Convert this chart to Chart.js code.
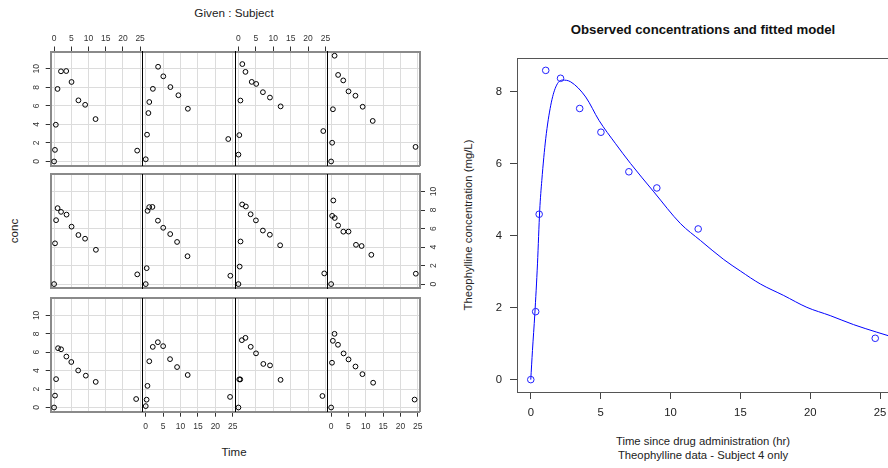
<!DOCTYPE html>
<html><head><meta charset="utf-8">
<script src="https://cdn.jsdelivr.net/npm/chart.js@4.4.1/dist/chart.umd.min.js"></script>
<style>
html,body{margin:0;padding:0;background:#fff;}
#wrap{position:relative;width:888px;height:468px;overflow:hidden;font-family:"Liberation Sans",Arial,sans-serif;}
#wrap canvas{position:absolute;left:0;top:0;}
.t{position:absolute;white-space:nowrap;color:#222;line-height:1;transform:translate(-50%,-50%);}
.r{transform:translate(-50%,-50%) rotate(-90deg);}
</style></head><body>
<div id="wrap">
  <div class="t" style="left:234px;top:13px;font-size:11.7px">Given : Subject</div>
  <div class="t r" style="left:15px;top:231px;font-size:11.5px">conc</div>
  <div class="t" style="left:234px;top:453px;font-size:11.5px">Time</div>
  <div class="t" style="left:703px;top:30px;font-size:13.2px;font-weight:bold;color:#111">Observed concentrations and fitted model</div>
  <div class="t r" style="left:469px;top:225px;font-size:11.3px">Theophylline concentration (mg/L)</div>
  <div class="t" style="left:703px;top:442px;font-size:11.3px">Time since drug administration (hr)</div>
  <div class="t" style="left:703px;top:455.5px;font-size:11.3px">Theophylline data - Subject 4 only</div>
</div>
<script>
// ---------- data (Theophylline, conc in mg/L, time in hr) ----------
const time_1  = [0, 0.25, 0.57, 1.12, 2.02, 3.82, 5.10, 7.03, 9.05, 12.12, 24.37];
const conc_1  = [0.74, 2.84, 6.57, 10.50, 9.66, 8.58, 8.36, 7.47, 6.89, 5.94, 3.28];
const time_2  = [0, 0.27, 0.52, 1.00, 1.92, 3.50, 5.02, 7.03, 9.00, 12.00, 24.30];
const conc_2  = [0.00, 1.72, 7.91, 8.31, 8.33, 6.85, 6.08, 5.40, 4.55, 3.01, 0.90];
const time_3  = [0, 0.27, 0.58, 1.02, 2.02, 3.62, 5.08, 7.07, 9.00, 12.15, 24.17];
const conc_3  = [0.00, 4.40, 6.90, 8.20, 7.80, 7.50, 6.20, 5.30, 4.90, 3.70, 1.05];
const time_4  = [0, 0.35, 0.60, 1.07, 2.13, 3.50, 5.02, 7.02, 9.02, 11.98, 24.65];
const conc_4  = [0.00, 1.89, 4.60, 8.60, 8.38, 7.54, 6.88, 5.78, 5.33, 4.19, 1.15];
const time_5  = [0, 0.30, 0.52, 1.00, 2.02, 3.50, 5.02, 7.02, 9.10, 12.00, 24.35];
const conc_5  = [0.00, 2.02, 5.63, 11.40, 9.33, 8.74, 7.56, 7.09, 5.90, 4.37, 1.57];
const time_6  = [0, 0.27, 0.58, 1.15, 2.03, 3.57, 5.00, 7.00, 9.22, 12.10, 23.85];
const conc_6  = [0.00, 1.29, 3.08, 6.44, 6.32, 5.53, 4.94, 4.02, 3.46, 2.78, 0.92];
const time_7  = [0, 0.25, 0.50, 1.02, 2.02, 3.48, 5.00, 6.98, 9.00, 12.05, 24.22];
const conc_7  = [0.15, 0.85, 2.35, 5.02, 6.58, 7.09, 6.66, 5.25, 4.39, 3.53, 1.15];
const time_8  = [0, 0.25, 0.52, 0.98, 2.02, 3.53, 5.05, 7.15, 9.07, 12.10, 24.12];
const conc_8  = [0.00, 3.05, 3.05, 7.31, 7.56, 6.59, 5.88, 4.73, 4.57, 3.00, 1.25];
const time_9  = [0, 0.30, 0.63, 1.05, 2.02, 3.53, 5.02, 7.17, 8.80, 11.60, 24.43];
const conc_9  = [0.00, 7.37, 9.03, 7.14, 6.33, 5.66, 5.67, 4.24, 4.11, 3.16, 1.12];
const time_10 = [0, 0.37, 0.77, 1.02, 2.05, 3.55, 5.05, 7.08, 9.38, 12.10, 23.70];
const conc_10 = [0.24, 2.89, 5.22, 6.41, 7.83, 10.21, 9.18, 8.02, 7.14, 5.68, 2.42];
const time_11 = [0, 0.25, 0.50, 0.98, 1.98, 3.60, 5.02, 7.03, 9.03, 12.12, 24.08];
const conc_11 = [0.00, 4.86, 7.24, 8.00, 6.81, 5.87, 5.22, 4.45, 3.62, 2.69, 0.86];
const time_12 = [0, 0.25, 0.50, 1.00, 2.00, 3.52, 5.07, 7.07, 9.03, 12.05, 24.15];
const conc_12 = [0.00, 1.25, 3.96, 7.82, 9.72, 9.75, 8.57, 6.59, 6.11, 4.57, 1.17];

// coplot panel order: bottom-left to right, then upwards
const panelSubjects = ['6', '7', '8', '11', '3', '2', '4', '9', '12', '10', '1', '5'];
const coplotTimeTicks = [0, 5, 10, 15, 20, 25];
const coplotConcTicks = [0, 2, 4, 6, 8, 10];

// fitted one-compartment model for subject 4
const fitTime = [0, 0.12, 0.29, 0.48, 0.64, 0.79, 1.07, 1.43, 1.79, 2.26, 2.86, 3.93, 4.88, 6.07, 7.14, 8.81, 10.71, 12.14, 13.81, 15.0, 16.43, 18.1, 19.76, 21.43, 23.1, 24.76, 25.6];
const fitConc = [0, 0.81, 1.83, 3.22, 4.71, 5.54, 6.70, 7.63, 8.14, 8.33, 8.28, 7.86, 7.21, 6.56, 6.01, 5.22, 4.34, 3.87, 3.34, 3.02, 2.66, 2.34, 2.01, 1.78, 1.53, 1.32, 1.22];
const fitTimeTicks = [0, 5, 10, 15, 20, 25];
const fitConcTicks = [0, 2, 4, 6, 8];

const dataBySubject = {
  '1': [time_1, conc_1], '2': [time_2, conc_2], '3': [time_3, conc_3], '4': [time_4, conc_4],
  '5': [time_5, conc_5], '6': [time_6, conc_6], '7': [time_7, conc_7], '8': [time_8, conc_8],
  '9': [time_9, conc_9], '10': [time_10, conc_10], '11': [time_11, conc_11], '12': [time_12, conc_12]
};

// ---------- layout ----------
const W = 888, H = 468;
const colX = [50.7, 142.3, 235, 327.7, 420];
const rowBox = [[298.3, 411.7], [174.3, 288.3], [51.5, 165.7]]; // bottom, middle, top
const FONT = "'Liberation Sans', Arial, Helvetica, sans-serif";
Chart.defaults.font.family = FONT;

// force an axis to a fixed thickness so the plot area is exactly where padding puts it
function sizeFit(n) {
  return s => {
    if (s.isHorizontal()) s.height = n; else s.width = n;
    s.paddingLeft = s.paddingRight = s.paddingTop = s.paddingBottom = 0;
  };
}
function fixTicks(vals) { return s => { s.ticks = vals.map(v => ({value: v})); }; }
function newCanvas() {
  const c = document.createElement('canvas');
  c.width = W; c.height = H; c.style.width = W + 'px'; c.style.height = H + 'px';
  document.getElementById('wrap').appendChild(c);
  return c;
}

const GRID = '#dcdcdc', OUTER = '#8a8a8a', TICKC = '#333', LABC = '#333';
const smallFont = {size: 8.5, family: FONT};
const AX = 22; // thickness given to a labelled coplot axis

panelSubjects.forEach((subj, i) => {
  const r = Math.floor(i / 4), c = i % 4;
  const [top, bottom] = rowBox[r];
  const showTop = (r === 2 && (c === 0 || c === 2));
  const showBottom = (r === 0 && (c === 1 || c === 3));
  const showLeft = (c === 0 && r !== 1);
  const showRight = (c === 3 && r === 1);
  const sT = showTop ? AX : 0, sB = showBottom ? AX : 0, sL = showLeft ? AX : 0, sR = showRight ? AX : 0;
  const [tt, cc] = dataBySubject[subj];
  const xr = {type: 'linear', min: -0.986, max: 25.636, afterBuildTicks: fixTicks(coplotTimeTicks)};
  const yr = {type: 'linear', min: -0.456, max: 11.856, afterBuildTicks: fixTicks(coplotConcTicks)};
  new Chart(newCanvas(), {
    type: 'scatter',
    data: {datasets: [{
      label: 'Subject ' + subj,
      data: tt.map((t, k) => ({x: t, y: cc[k]})),
      pointStyle: 'circle', pointRadius: 2.4, pointBorderWidth: 1,
      pointBorderColor: '#000', pointBackgroundColor: 'rgba(0,0,0,0)', showLine: false
    }]},
    options: {
      responsive: false, animation: false, devicePixelRatio: 1, events: [],
      layout: {autoPadding: false, padding: {left: colX[c] - sL, right: W - colX[c + 1] - sR, top: top - sT, bottom: H - bottom - sB}},
      plugins: {legend: {display: false}, tooltip: {enabled: false}, title: {display: false}},
      scales: {
        x: Object.assign({}, xr, {position: 'bottom', afterFit: sizeFit(sB),
          grid: {color: GRID, lineWidth: 1, drawTicks: showBottom, tickLength: 5, tickColor: TICKC},
          border: {display: true, color: OUTER, width: 2},
          ticks: {display: showBottom, padding: 4.9, color: LABC, font: smallFont, autoSkip: false, callback: v => String(v)}}),
        x2: Object.assign({}, xr, {position: 'top', afterFit: sizeFit(sT),
          grid: {display: showTop, drawOnChartArea: false, drawTicks: true, tickLength: 5, tickColor: TICKC},
          border: {display: true, color: OUTER, width: 2},
          ticks: {display: showTop, padding: 3.1, color: LABC, font: smallFont, autoSkip: false, callback: v => String(v)}}),
        y: Object.assign({}, yr, {position: 'left', afterFit: sizeFit(sL),
          grid: {color: GRID, lineWidth: 1, drawTicks: showLeft, tickLength: 5, tickColor: TICKC},
          border: {display: true, color: c === 0 ? OUTER : '#000', width: c === 0 ? 2 : 1},
          ticks: {display: showLeft, minRotation: 90, maxRotation: 90, crossAlign: 'center', padding: 4.7, color: LABC, font: smallFont, autoSkip: false, callback: v => String(v)}}),
        y2: Object.assign({}, yr, {position: 'right', afterFit: sizeFit(sR),
          grid: {display: showRight, drawOnChartArea: false, drawTicks: true, tickLength: 5, tickColor: TICKC},
          border: {display: c === 3, color: OUTER, width: 2},
          ticks: {display: showRight, minRotation: 90, maxRotation: 90, crossAlign: 'center', padding: 3.6, color: LABC, font: smallFont, autoSkip: false, callback: v => String(v)}})
      }
    }
  });
});

// ---------- right-hand plot: subject 4 with fitted model ----------
const axFont = {size: 11.3, family: FONT};
new Chart(newCanvas(), {
  type: 'scatter',
  data: {datasets: [
    {label: 'Observed', data: time_4.map((t, k) => ({x: t, y: conc_4[k]})),
     pointStyle: 'circle', pointRadius: 3.3, pointBorderWidth: 1, pointBorderColor: '#2020ff',
     pointBackgroundColor: 'rgba(0,0,0,0)', showLine: false},
    {label: 'Fitted', data: fitTime.map((t, k) => ({x: t, y: fitConc[k]})),
     showLine: true, pointRadius: 0, borderColor: '#0000ff', borderWidth: 1,
     cubicInterpolationMode: 'monotone', fill: false}
  ]},
  options: {
    responsive: false, animation: false, devicePixelRatio: 1, events: [],
    layout: {autoPadding: false, padding: {left: 517 - 40, right: 0, top: 58, bottom: H - 392 - 40}},
    plugins: {legend: {display: false}, tooltip: {enabled: false}, title: {display: false}},
    scales: {
      x: {type: 'linear', position: 'bottom', min: -0.986, max: 25.564,
          afterBuildTicks: fixTicks(fitTimeTicks), afterFit: sizeFit(40),
          grid: {display: true, drawOnChartArea: false, drawTicks: true, tickLength: 7, tickColor: '#444'},
          border: {display: true, color: '#555', width: 1},
          ticks: {padding: 7.2, color: '#222', font: axFont, autoSkip: false, callback: v => String(v)}},
      x2: {type: 'linear', position: 'top', min: -0.986, max: 25.564,
          afterBuildTicks: fixTicks(fitTimeTicks), afterFit: sizeFit(0),
          grid: {display: false}, border: {display: true, color: '#555', width: 1},
          ticks: {display: false}},
      y: {type: 'linear', position: 'left', min: -0.344, max: 8.944,
          afterBuildTicks: fixTicks(fitConcTicks), afterFit: sizeFit(40),
          grid: {display: true, drawOnChartArea: false, drawTicks: true, tickLength: 7, tickColor: '#444'},
          border: {display: true, color: '#555', width: 1},
          ticks: {padding: 8, color: '#222', font: axFont, autoSkip: false, callback: v => String(v)}}
    }
  }
});
</script>
</body></html>
